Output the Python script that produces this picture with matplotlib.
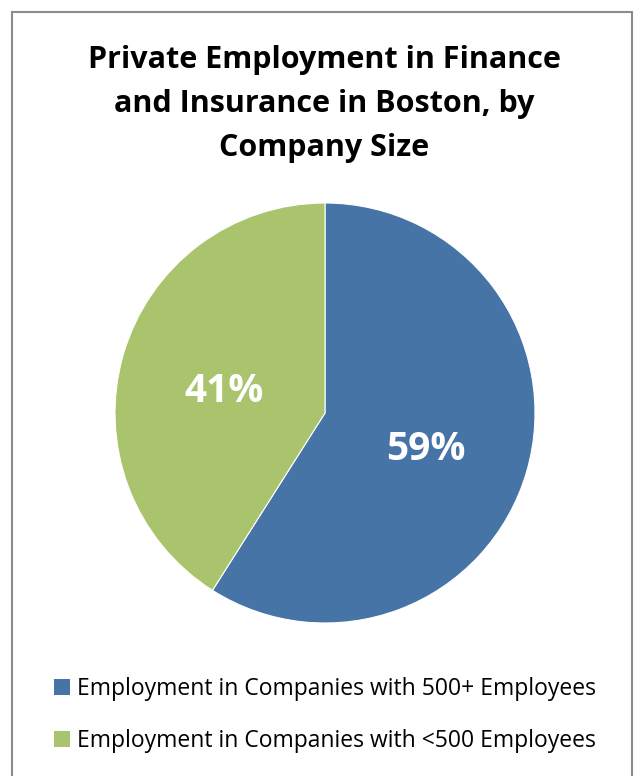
import matplotlib.pyplot as plt
from matplotlib.patches import Rectangle, Patch

# Datos del gráfico
categorias = ["Employment in Companies with 500+ Employees",
              "Employment in Companies with <500 Employees"]
valores = [59, 41]
colores = ["#4674A6", "#AAC46E"]
titulo = "Private Employment in Finance\nand Insurance in Boston, by\nCompany Size"

plt.rcParams['font.family'] = ['Open Sans', 'DejaVu Sans']

fig = plt.figure(figsize=(6.38, 7.76), dpi=100)

# Marco gris del gráfico
fig.patches.append(Rectangle((12 / 638, -0.05), 620 / 638, 1 - 12 / 776 + 0.05,
                             transform=fig.transFigure, fill=False,
                             edgecolor="#8c8c8c", linewidth=1.5))

fig.text(324 / 638, 1 - 104 / 776, titulo, ha="center", va="center",
         fontsize=22, fontweight="bold", linespacing=1.6)

# Pastel: centro (325, 413), radio 210 px
r = 210
ax = fig.add_axes([(325 - r) / 638, 1 - (413 + r) / 776, 2 * r / 638, 2 * r / 776])
wedges, textos, autotextos = ax.pie(valores, colors=colores, startangle=90,
                                    counterclock=False,
                                    autopct=lambda p: f"{round(p)}%",
                                    pctdistance=0.5,
                                    wedgeprops=dict(linewidth=0.8, edgecolor="white"),
                                    textprops=dict(color="white", fontsize=28,
                                                   fontweight="bold"))
# bajar un poco las etiquetas
for t in autotextos:
    x, y = t.get_position()
    t.set_position((x, y - 0.035))
ax.set_aspect("equal")
ax.set_xlim(-1, 1)
ax.set_ylim(-1, 1)

# Leyenda
manijas = [Patch(facecolor=c, edgecolor="none") for c in colores]
fig.legend(manijas, categorias, loc="center left",
           bbox_to_anchor=(33 / 638, 1 - 715 / 776), frameon=False,
           fontsize=16.5, handlelength=0.7, handleheight=0.7,
           handletextpad=0.3, labelspacing=1.25)

fig.savefig("out.png", dpi=100)
